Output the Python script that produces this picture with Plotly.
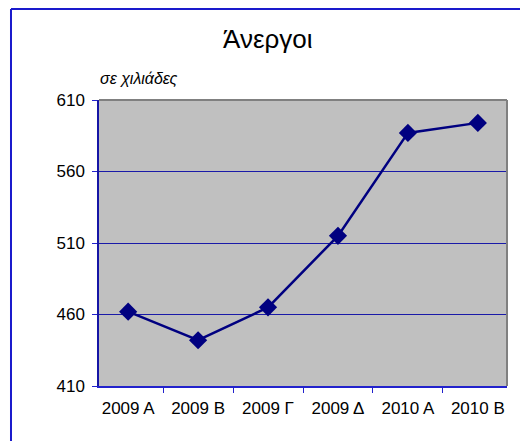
import plotly.graph_objects as go

categories = ["2009 Α", "2009 Β", "2009 Γ", "2009 Δ", "2010 Α", "2010 Β"]
values = [462, 442, 465, 515, 587, 594]
y_ticks = [410, 460, 510, 560, 610]

fig = go.Figure()
fig.add_trace(go.Scatter(
    x=categories, y=values, mode="lines+markers",
    line=dict(color="#000080", width=2.5),
    marker=dict(symbol="diamond", size=14, color="#000080"),
    showlegend=False, cliponaxis=False,
))

frame_left = -0.2157
frame_top = 1.318

fig.update_layout(
    width=520, height=441,
    margin=dict(l=99, r=13, t=100, b=55),
    paper_bgcolor="white", plot_bgcolor="#c0c0c0",
    font=dict(family="Arial, Liberation Sans, sans-serif", size=17, color="black"),
    xaxis=dict(
        type="category", tickson="boundaries", ticks="outside", ticklen=5,
        tickcolor="#2222cc", showline=True, linecolor="#2222cc", linewidth=1.5,
        showgrid=False, tickfont=dict(size=17), fixedrange=True,
        ticklabelstandoff=6,
    ),
    yaxis=dict(
        range=[410, 610], tickvals=y_ticks, ticks="outside", ticklen=5,
        tickcolor="#2222cc", showline=True, linecolor="#1515a5", linewidth=1.5,
        showgrid=True, gridcolor="#1a1aa8", gridwidth=1, zeroline=False,
        tickfont=dict(size=17), fixedrange=True, ticklabelstandoff=4,
    ),
    shapes=[
        dict(type="line", xref="paper", yref="paper", x0=0, x1=1, y0=1, y1=1,
             line=dict(color="#808080", width=2)),
        dict(type="line", xref="paper", yref="paper", x0=1, x1=1, y0=0, y1=1,
             line=dict(color="#808080", width=2)),
        dict(type="line", xref="paper", yref="paper", x0=frame_left, x1=1.1,
             y0=frame_top, y1=frame_top, line=dict(color="#1a1acc", width=2)),
        dict(type="line", xref="paper", yref="paper", x0=frame_left, x1=frame_left,
             y0=-0.3, y1=frame_top, line=dict(color="#1a1acc", width=2)),
    ],
    annotations=[
        dict(text="Άνεργοι", xref="paper", yref="paper", x=(268 - 99) / 408,
             y=(386 - 39) / 286, showarrow=False, font=dict(size=26),
             xanchor="center", yanchor="middle"),
        dict(text="<i>σε χιλιάδες</i>", xref="paper", yref="paper", x=(98 - 99) / 408,
             y=(386 - 78) / 286, showarrow=False, font=dict(size=16),
             xanchor="left", yanchor="middle"),
    ],
)

fig.write_html("out.html", config={"displayModeBar": False},
               post_script="document.body.style.margin='0';document.body.style.overflow='hidden';")
